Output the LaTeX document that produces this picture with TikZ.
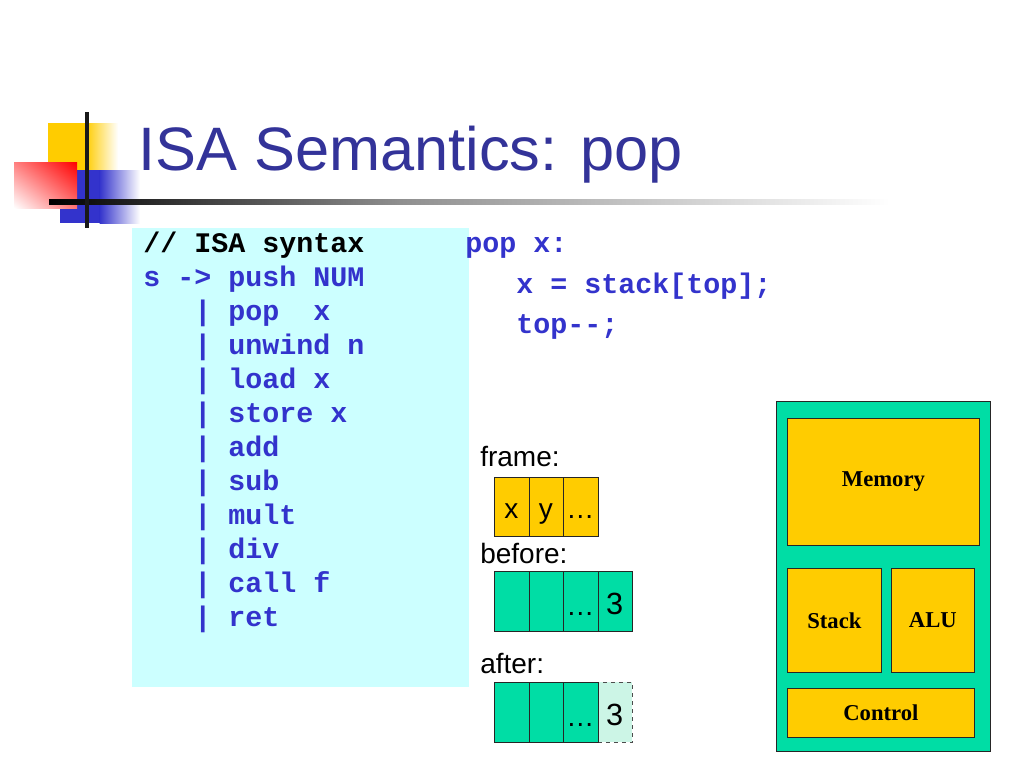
\documentclass[tikz,border=0pt]{standalone}
\usepackage{fontspec}
\usetikzlibrary{shadings}
\setmainfont{Liberation Sans}
\setmonofont{Liberation Mono}
\newfontfamily\timesfont{Liberation Serif}
\definecolor{titleblue}{HTML}{333399}
\definecolor{codeblue}{HTML}{3333CC}
\definecolor{codebg}{HTML}{CCFFFF}
\definecolor{logoyellow}{HTML}{FFCC00}
\definecolor{logoblue}{HTML}{3333CC}
\definecolor{orangecell}{HTML}{FFCC00}
\definecolor{greencell}{HTML}{00DDA5}
\definecolor{lightcell}{HTML}{CCF5E6}
\tikzset{
  code/.style={anchor=base west, inner sep=0pt, text=codeblue,
    font=\ttfamily\bfseries\fontsize{21.25}{25}\selectfont},
  label/.style={anchor=base west, inner sep=0pt,
    font=\fontsize{21}{25}\selectfont},
  cell/.style={draw=black!85, line width=0.6pt, anchor=north west, inner sep=0pt,
    minimum width=25.875pt, minimum height=45pt},
  ocell/.style={cell, fill=orangecell, minimum height=44.25pt},
  gcell/.style={cell, fill=greencell},
  lcell/.style={cell, fill=lightcell, dashed, draw=black!70},
  celltext/.style={anchor=base, inner sep=0pt, font=\fontsize{21}{24}\selectfont},
  numtext/.style={anchor=base, inner sep=0pt, font=\fontsize{23}{26}\selectfont},
  unit/.style={draw=black!85, line width=0.6pt, fill=orangecell, anchor=north west,
    inner sep=0pt, font=\timesfont\bfseries\fontsize{17}{20}\selectfont},
}
\begin{document}
\begin{tikzpicture}[x=0.75pt,y=-0.75pt]
\useasboundingbox (0,0) rectangle (1024,768);
% logo
\fill[logoyellow] (48,123) rectangle (86,171);
\shade[left color=logoyellow, right color=white] (85.5,123) rectangle (118,171);
\fill[logoblue] (60,170) rectangle (100,223);
\shade[left color=logoblue, right color=white] (99.5,170) rectangle (140,223);
\shade[upper right=red, upper left=red!50!white, lower right=red!55!white, lower left=white]
  (14,162) rectangle (77,208);
\shade[left color=black, right color=black!44] (49,199) rectangle (400,204);
\shade[left color=black!44, right color=white] (399.5,199) rectangle (890,204);
\draw[line width=3pt, black!90] (87,112) -- (87,228);
% title
\node[anchor=base west, inner sep=0pt, text=titleblue,
  font=\fontsize{46}{50}\selectfont] (title) at (138,170) {ISA Semantics: pop};
% code box
\node[fill=codebg, anchor=north west, inner sep=0pt,
  minimum width=252.75pt, minimum height=344.25pt] (codebox) at (132,228) {};
\node[code, text=black] (l1) at (143,252) {// ISA syntax};
\node[code] (l2) at (143,286) {s -> push NUM};
\node[code] (l3) at (143,320) {~~~| pop~~x};
\node[code] (l4) at (143,354) {~~~| unwind n};
\node[code] (l5) at (143,388) {~~~| load x};
\node[code] (l6) at (143,422) {~~~| store x};
\node[code] (l7) at (143,456) {~~~| add};
\node[code] (l8) at (143,490) {~~~| sub};
\node[code] (l9) at (143,524) {~~~| mult};
\node[code] (l10) at (143,558) {~~~| div};
\node[code] (l11) at (143,592) {~~~| call f};
\node[code] (l12) at (143,626) {~~~| ret};
% semantics
\node[code] (s1) at (465,252) {pop x:};
\node[code] (s2) at (465,293) {~~~x = stack[top];};
\node[code] (s3) at (465,333) {~~~top--;};
% frames
\node[label] (frame) at (480,466) {frame:};
\node[ocell] (f1) at (494,477) {};
\node[ocell] (f2) at (528.5,477) {};
\node[ocell] (f3) at (563,477) {};
\node[celltext] (fx) at (511.25,518) {x};
\node[celltext] (fy) at (545.75,518) {y};
\node[celltext] (fd) at (580.25,518) {\ldots};
\node[label] (before) at (480,563) {before:};
\node[gcell] (b1) at (494,571) {};
\node[gcell] (b2) at (528.5,571) {};
\node[gcell] (b3) at (563,571) {};
\node[gcell] (b4) at (597.5,571) {};
\node[celltext] (bd) at (580.25,615) {\ldots};
\node[numtext] (b3t) at (614.75,614) {3};
\node[label] (after) at (480,673) {after:};
\node[lcell] (a4) at (597.5,682) {};
\node[gcell] (a1) at (494,682) {};
\node[gcell] (a2) at (528.5,682) {};
\node[gcell] (a3) at (563,682) {};
\node[celltext] (ad) at (580.25,726) {\ldots};
\node[numtext] (a3t) at (614.75,725) {3};
% machine
\node[draw=black!85, line width=0.6pt, fill=greencell, anchor=north west, inner sep=0pt,
  minimum width=160.5pt, minimum height=262.5pt] (machine) at (776,401) {};
\node[unit, minimum width=144pt, minimum height=95.25pt] (memory) at (787,418) {Memory};
\node[unit, minimum width=70.5pt, minimum height=78pt] (stack) at (787,568) {Stack};
\node[unit, minimum width=62.25pt, minimum height=78pt] (alu) at (891,568) {ALU};
\node[unit, minimum width=140.25pt, minimum height=36.75pt] (control) at (787,688) {Control};
\end{tikzpicture}
\end{document}
